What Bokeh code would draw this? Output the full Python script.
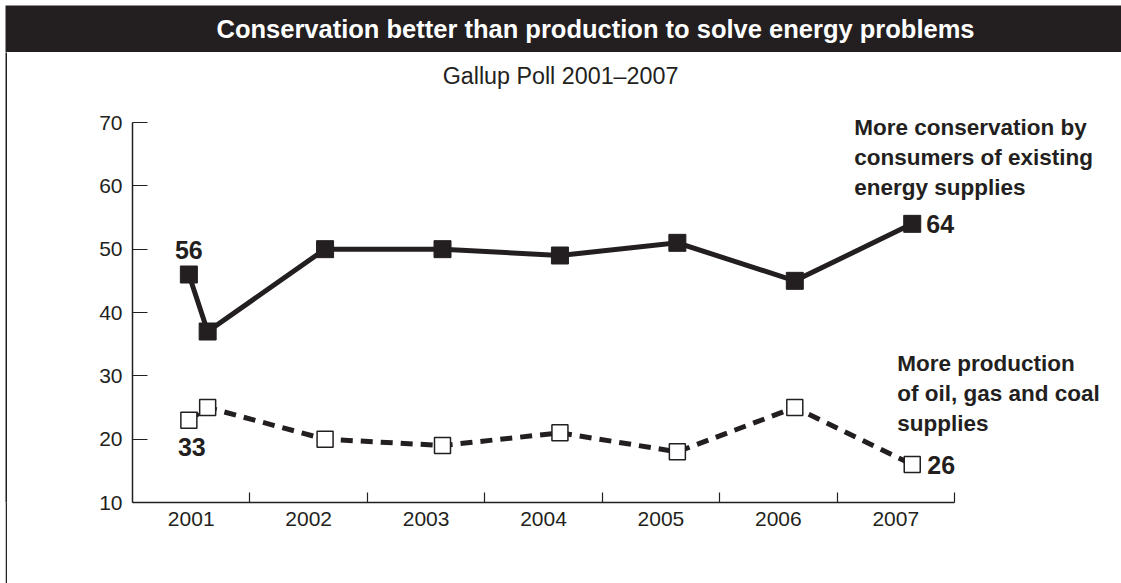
from bokeh.plotting import figure
from bokeh.models import Range1d, FixedTicker, Label, Spacer
from bokeh.layouts import column, row
from bokeh.embed import file_html
from bokeh.resources import INLINE

# ---------------- data ----------------
title_text = "Conservation better than production to solve energy problems"
subtitle_text = "Gallup Poll 2001\u20132007"
years = [2001, 2002, 2003, 2004, 2005, 2006, 2007]
year_labels = ["2001", "2002", "2003", "2004", "2005", "2006", "2007"]
poll_x = [2001.48, 2001.64, 2002.64, 2003.64, 2004.64, 2005.64, 2006.64, 2007.64]
conservation = [46, 37, 50, 50, 49, 51, 45, 54]
production = [23, 25, 20, 19, 21, 18, 25, 16]
y_ticks = [10, 20, 30, 40, 50, 60, 70]
conservation_name = "More conservation by\nconsumers of existing\nenergy supplies"
production_name = "More production\nof oil, gas and coal\nsupplies"
conservation_values = ["56", "64"]   # first / last point labels
production_values = ["33", "26"]

# ---------------- style / layout ----------------
DARK = "#231f20"
FONT = "Liberation Sans"
W, H = 1121, 583
HEAD_H = 52
MAIN_H = H - HEAD_H

# header bar
head = figure(width=W, height=HEAD_H, x_range=Range1d(0, W - 5), y_range=Range1d(0, HEAD_H - 5),
              toolbar_location=None, output_backend="svg", x_axis_type=None, y_axis_type=None,
              min_border=0, min_border_left=5, min_border_top=5,
              background_fill_color=DARK, border_fill_color="white", outline_line_color=None)
head.add_layout(Label(x=590, y=24, text=title_text, text_align="center", text_baseline="middle",
                      text_color="white", text_font=FONT, text_font_size="25.5px",
                      text_font_style="bold"))

# left border line (whole narrow figure is dark)
edge = figure(width=2, height=MAIN_H, toolbar_location=None, output_backend="svg",
              x_axis_type=None, y_axis_type=None, min_border=0,
              background_fill_color=DARK, border_fill_color=DARK, outline_line_color=None)

# main chart: frame extends to right and top edges so labels are not clipped
MW = W - 8
LEFT = 124                 # frame left inside main figure
PX_YEAR = 822 / 7          # pixels per year on the x axis
PX_UNIT = 380 / 60         # pixels per percentage point
FRAME_W = MW - LEFT
FRAME_H = 450
x_end = 2001 + FRAME_W / PX_YEAR
y_end = 10 + FRAME_H / PX_UNIT

p = figure(width=MW, height=MAIN_H, x_range=Range1d(2001, x_end), y_range=Range1d(10, y_end),
           toolbar_location=None, output_backend="svg",
           min_border_left=LEFT, min_border_right=0, min_border_top=0,
           min_border_bottom=MAIN_H - FRAME_H,
           outline_line_color=None, background_fill_color="white", border_fill_color="white")
p.grid.visible = False

# x axis: labels centred in each year, tick marks at year boundaries
xa = p.xaxis[0]
xa.bounds = (2001, 2008)
xa.ticker = FixedTicker(ticks=[y + 0.5 for y in years], minor_ticks=[y + 1 for y in years])
xa.major_label_overrides = {y + 0.5: lab for y, lab in zip(years, year_labels)}
xa.major_tick_in = 0
xa.major_tick_out = 0
xa.minor_tick_in = 10
xa.minor_tick_out = 0
xa.minor_tick_line_color = DARK
xa.minor_tick_line_width = 1.2
xa.axis_line_color = DARK
xa.axis_line_width = 1.5
xa.major_label_text_font = FONT
xa.major_label_text_font_size = "21px"
xa.major_label_text_color = DARK
xa.major_label_standoff = 9

ya = p.yaxis[0]
ya.bounds = (10, 70)
ya.ticker = FixedTicker(ticks=y_ticks)
ya.major_tick_in = 15
ya.major_tick_out = 0
ya.major_tick_line_color = DARK
ya.major_tick_line_width = 1.2
ya.minor_tick_line_color = None
ya.axis_line_color = DARK
ya.axis_line_width = 1.5
ya.major_label_text_font = FONT
ya.major_label_text_font_size = "21px"
ya.major_label_text_color = DARK
ya.major_label_standoff = 10

# series
p.line(poll_x, conservation, line_width=5, line_color=DARK, line_join="miter")
p.line(poll_x, production, line_width=5, line_color=DARK, line_dash="12 8")
p.scatter(poll_x, conservation, marker="square", size=17, fill_color=DARK, line_color=DARK)
p.scatter(poll_x, production, marker="square", size=16, fill_color="white",
          line_color=DARK, line_width=1.5)

# subtitle
p.add_layout(Label(x=2001 + (560 - 132) / PX_YEAR, y=10 + (502 - 75) / PX_UNIT,
                   text=subtitle_text, text_align="center", text_baseline="middle",
                   text_font=FONT, text_font_size="23.3px", text_color=DARK))


def lab(x, y, text, dx, dy, align="center", base="middle", size="25px", lh=1.2):
    p.add_layout(Label(x=x, y=y, text=text, x_offset=dx, y_offset=dy, text_align=align,
                       text_baseline=base, text_font=FONT, text_font_size=size,
                       text_font_style="bold", text_color=DARK, text_line_height=lh))


lab(poll_x[0], conservation[0], conservation_values[0], 0, 25)
lab(poll_x[0], production[0], production_values[0], 3, -27)
lab(poll_x[-1], conservation[-1], conservation_values[1], 14, 0, align="left")
lab(poll_x[-1], production[-1], production_values[1], 15, 0, align="left")
lab(poll_x[-1], conservation[-1], conservation_name, -58, 109, align="left", base="top",
    size="22.5px", lh=1.2)
lab(poll_x[-1], production[-1], production_name, -15, 114, align="left", base="top",
    size="22.5px", lh=1.2)

layout = column(head, row(Spacer(width=5, height=MAIN_H), edge, Spacer(width=1, height=MAIN_H), p))
open("out.html", "w").write(file_html(layout, INLINE))
